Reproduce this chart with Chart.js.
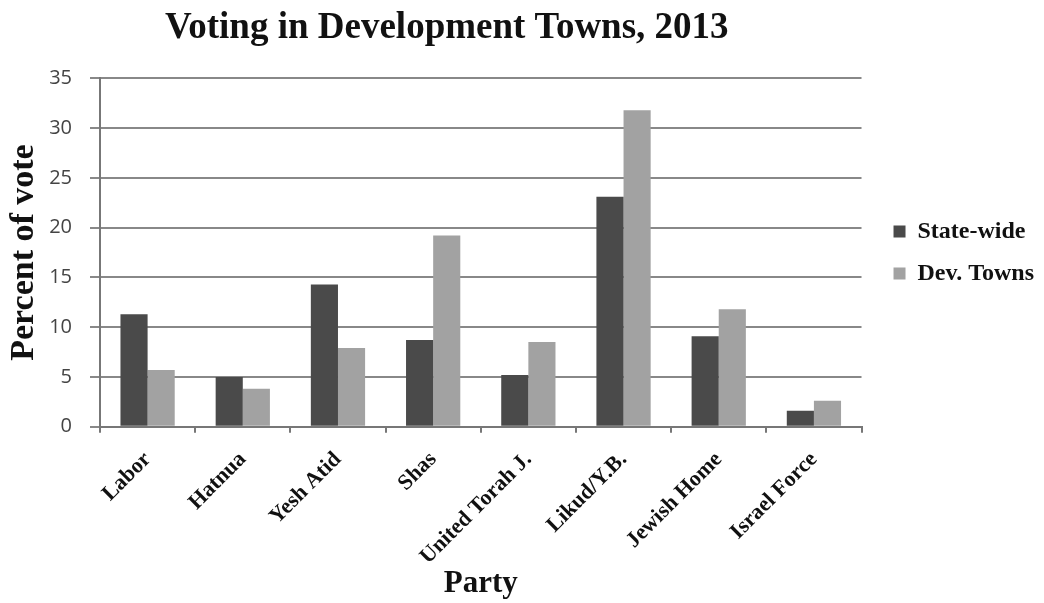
<!DOCTYPE html>
<html>
<head>
<meta charset="utf-8">
<script src="https://cdn.jsdelivr.net/npm/chart.js@4/dist/chart.umd.min.js"></script>
<style>
  html, body { margin: 0; padding: 0; background: #fff; }
  #wrap { width: 1044px; height: 603px; }
</style>
</head>
<body>
<div id="wrap"><canvas id="chart" width="1044" height="603"></canvas></div>
<script>
// parties on the x axis
const parties = ['Labor', 'Hatnua', 'Yesh Atid', 'Shas', 'United Torah J.', 'Likud/Y.B.', 'Jewish Home', 'Israel Force'];
// percent of vote
const stateWide = [11.3, 5.0, 14.3, 8.7, 5.2, 23.1, 9.1, 1.6];
const devTowns = [5.7, 3.8, 7.9, 19.2, 8.5, 31.8, 11.8, 2.6];
const yTicks = [0, 5, 10, 15, 20, 25, 30, 35];

const serif = '"Liberation Serif", "DejaVu Serif", serif';

// the title sits a bit left of the plot centre in the original
const titleShift = {
    id: 'titleShift',
    afterLayout(chart) {
        chart.titleBlock.left -= 34;
        chart.titleBlock.right -= 34;
    }
};

const config = {
    type: 'bar',
    data: {
        labels: parties,
        datasets: [{
            label: 'State-wide',
            data: stateWide,
            backgroundColor: '#4a4a4a',
            borderWidth: 0
        }, {
            label: 'Dev. Towns',
            data: devTowns,
            backgroundColor: '#a2a2a2',
            borderWidth: 0
        }]
    },
    options: {
        responsive: false,
        animation: false,
        layout: {
            padding: { left: 4, right: 0, top: 0, bottom: 0 }
        },
        datasets: {
            bar: {
                categoryPercentage: 0.57,
                barPercentage: 1.0
            }
        },
        plugins: {
            title: {
                display: true,
                text: 'Voting in Development Towns, 2013',
                fullSize: false,
                color: '#111',
                font: { family: serif, size: 37, weight: 'bold' },
                padding: { top: 6, bottom: 28 }
            },
            legend: {
                position: 'right',
                fullSize: false,
                labels: {
                    color: '#111',
                    boxWidth: 12,
                    boxHeight: 12,
                    padding: 18,
                    font: { family: serif, size: 24, weight: 'bold' }
                }
            },
            tooltip: { enabled: false }
        },
        scales: {
            x: {
                // the rotated labels need less room than chart.js keeps for them
                afterFit: (axis) => {
                    axis.height -= 18;
                },
                grid: {
                    offset: true,
                    drawOnChartArea: false,
                    drawTicks: true,
                    tickLength: 6,
                    color: '#777',
                    lineWidth: 2
                },
                border: { color: '#777', width: 2 },
                ticks: {
                    color: '#111',
                    minRotation: 45,
                    maxRotation: 45,
                    padding: 14,
                    font: { family: serif, size: 22, weight: 'bold' }
                },
                title: {
                    display: true,
                    text: 'Party',
                    color: '#111',
                    padding: { top: 0, bottom: 0 },
                    font: { family: serif, size: 31, weight: 'bold' }
                }
            },
            y: {
                min: 0,
                max: 35,
                afterBuildTicks: (axis) => {
                    axis.ticks = yTicks.map(v => ({ value: v }));
                },
                afterFit: (axis) => {
                    axis.width = 96;
                },
                grid: {
                    color: '#888',
                    lineWidth: 2,
                    tickLength: 10
                },
                border: { color: '#777', width: 2 },
                ticks: {
                    color: '#444',
                    padding: 18,
                    font: { family: '"Open Sans", sans-serif', size: 20 }
                },
                title: {
                    display: true,
                    text: 'Percent of vote',
                    color: '#111',
                    padding: { top: 0, bottom: 4 },
                    font: { family: serif, size: 34, weight: 'bold' }
                }
            },
            // empty right-hand axis, only used as a gap before the legend
            gap: {
                type: 'linear',
                position: 'right',
                display: true,
                ticks: { display: false },
                grid: { display: false },
                border: { display: false },
                afterFit: (axis) => {
                    axis.width = 14;
                }
            }
        }
    },
    plugins: [titleShift]
};

window.onload = () => {
    let ctx = document.getElementById('chart').getContext('2d');
    window.myChart = new Chart(ctx, config);
};
</script>
</body>
</html>
